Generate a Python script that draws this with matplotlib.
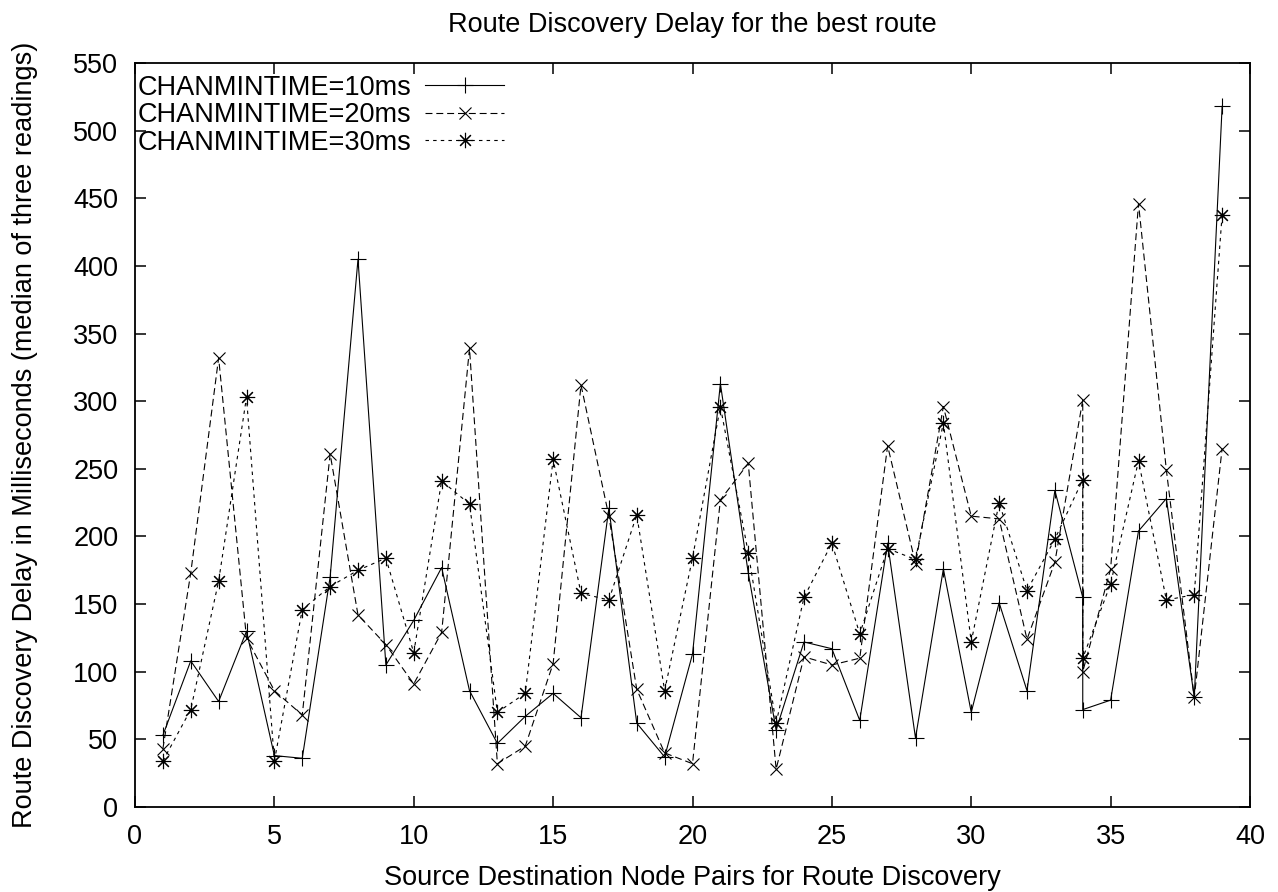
import matplotlib
matplotlib.use("Agg")
import matplotlib.pyplot as plt

plt.rcParams['font.family'] = ['Liberation Sans', 'DejaVu Sans']
plt.rcParams['lines.scale_dashes'] = False

# node pair index (pair 34 has two readings)
pairs = list(range(1, 35)) + [34] + list(range(35, 40))

t10 = [53, 108, 78, 130, 38, 36, 170, 405, 105, 138,
       177, 86, 47, 67, 84, 66, 221, 62, 37, 113,
       313, 173, 57, 122, 117, 64, 195, 51, 176, 70,
       151, 86, 234, 155, 72, 79, 204, 228, 81, 518]
t20 = [43, 173, 332, 125, 86, 68, 261, 142, 120, 91,
       129, 339, 32, 45, 106, 312, 215, 87, 40, 32,
       227, 254, 28, 111, 105, 110, 267, 180, 296, 215,
       213, 124, 181, 301, 100, 176, 446, 249, 81, 265]
t30 = [34, 72, 167, 303, 34, 146, 163, 175, 184, 114,
       241, 224, 70, 84, 257, 158, 153, 216, 86, 184,
       296, 188, 62, 155, 195, 128, 191, 183, 284, 122,
       225, 160, 198, 242, 110, 165, 256, 153, 157, 438]

labels = ['CHANMINTIME=10ms', 'CHANMINTIME=20ms', 'CHANMINTIME=30ms']

fs = 19.5
fig = plt.figure(figsize=(12.78, 8.92), dpi=100)
ax = fig.add_axes([135/1278, 1-807/892, (1250-135)/1278, (807-63)/892])

lw = 0.8
ax.plot(pairs, t10, color='k', lw=lw, ls='-', marker='+', ms=12, mew=0.8, label=labels[0])
ax.plot(pairs, t20, color='k', lw=lw, ls=(0, (5, 2.8)), marker='x', ms=9, mew=0.8, label=labels[1])
ax.plot(pairs, t30, color='k', lw=lw, ls=(0, (2.5, 3)), marker=(8, 2, 0), ms=11, mew=0.8, label=labels[2])

ax.set_xlim(0, 40)
ax.set_ylim(0, 550)
ax.set_xticks(range(0, 41, 5))
ax.set_yticks(range(0, 551, 50))
ax.tick_params(direction='in', top=True, right=True, length=8, width=1.1,
               labelsize=fs, pad=12)
for s in ax.spines.values():
    s.set_linewidth(1.3)

ax.set_title('Route Discovery Delay for the best route', fontsize=fs, pad=22)
ax.set_xlabel('Source Destination Node Pairs for Route Discovery', fontsize=fs, labelpad=11)
ax.set_ylabel('Route Discovery Delay in Milliseconds (median of three readings)', fontsize=fs)
ax.yaxis.set_label_coords(-0.087, 0.5)

leg = ax.legend(loc='upper left', bbox_to_anchor=(0.002, 0.984), borderaxespad=0, borderpad=0,
                frameon=False, markerfirst=False, fontsize=fs, handlelength=2.93,
                handletextpad=0.52, labelspacing=0.05, numpoints=1)

fig.savefig('out.png', dpi=100)
